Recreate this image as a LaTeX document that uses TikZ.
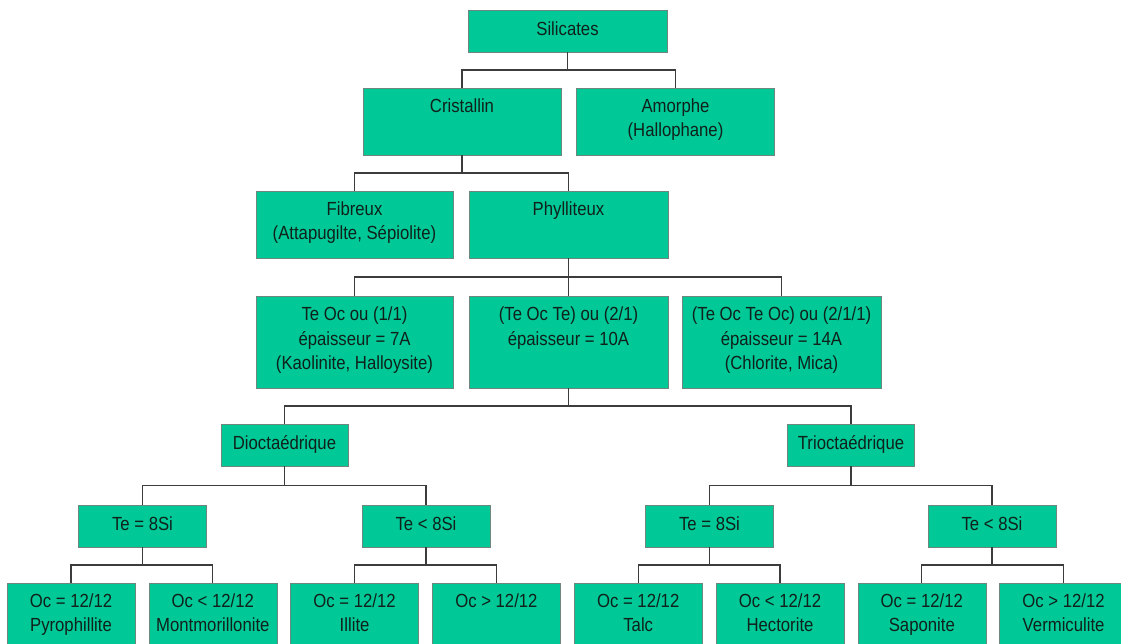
\documentclass[tikz,border=0pt]{standalone}
\usepackage{fontspec}
\setmainfont{Liberation Sans}[FakeStretch=0.88]
\usepackage{tikz}
\usetikzlibrary{positioning,calc}
\definecolor{boxgreen}{RGB}{0,201,151}
\definecolor{boxline}{RGB}{110,135,125}
\definecolor{linkgray}{RGB}{60,60,60}
\definecolor{inkdark}{RGB}{16,32,26}

\begin{document}
\begin{tikzpicture}[
    x=1pt, y=-1pt,
    box/.style={rectangle,draw=boxline,line width=0.6pt,fill=boxgreen,text=inkdark,align=center,inner sep=2pt,
        font=\fontsize{19}{24.5}\selectfont,execute at begin node=\strut,execute at end node=\strut},
    small/.style={box,minimum width=128pt,minimum height=42pt},
    wide/.style={box,minimum width=198pt,minimum height=67pt},
    tall/.style={box,minimum width=197pt,minimum height=92pt},
    leaf/.style={box,minimum width=128pt,minimum height=67pt},
    link/.style={draw=linkgray,line width=1.3pt,
        to path={(\tikztostart.south) -- ($(\tikztostart.south)!0.5!(\tikztostart.south |- \tikztotarget.north)$) -| (\tikztotarget.north)}}
    ]
        \useasboundingbox (0,0) rectangle (1121,643);
        \clip (0,0) rectangle (1121,643);

        \node [small,minimum width=199pt](sil) at (567.5,31) {Silicates};

        \node [wide](cris) at (462,121.5) {Cristallin\\~};
        \node [wide,node distance=213.5pt](amor) [right of=cris] {Amorphe\\(Hallophane)};

        \node [wide,minimum width=197pt](fib) at (354.5,224.5) {Fibreux\\(Attapugilte, Sépiolite)};
        \node [wide,minimum width=199pt,node distance=214pt](phyl) [right of=fib] {Phylliteux\\~};

        \node [tall](to) at (354.5,342) {Te Oc ou (1/1)\\épaisseur = 7A\\(Kaolinite, Halloysite)};
        \node [tall,minimum width=199pt,node distance=214pt](tot) [right of=to] {(Te Oc Te) ou (2/1)\\épaisseur = 10A\\~};
        \node [tall,minimum width=199pt,node distance=213pt](toto) [right of=tot] {(Te Oc Te Oc) ou (2/1/1)\\épaisseur = 14A\\(Chlorite, Mica)};

        \node [small,minimum width=127pt](dio) at (284.5,445) {Dioctaédrique};
        \node [small,minimum width=127pt,node distance=566.5pt](tri) [right of=dio] {Trioctaédrique};

        \node [small](deq) at (142.5,526) {Te = 8Si};
        \node [small,node distance=283.5pt](dlt) [right of=deq] {Te < 8Si};
        \node [small,node distance=283.5pt](teq) [right of=dlt] {Te = 8Si};
        \node [small,node distance=282.5pt](tlt) [right of=teq] {Te < 8Si};

        \node [leaf](pyro) at (71,616.5) {Oc = 12/12\\Pyrophillite};
        \node [leaf,node distance=141.8pt](mont) [right of=pyro] {Oc < 12/12\\Montmorillonite};
        \node [leaf,node distance=141.8pt](illi) [right of=mont] {Oc = 12/12\\Illite};
        \node [leaf,node distance=141.8pt](dgt) [right of=illi] {Oc > 12/12\\~};
        \node [leaf,node distance=141.8pt](talc) [right of=dgt] {Oc = 12/12\\Talc};
        \node [leaf,node distance=141.8pt](hect) [right of=talc] {Oc < 12/12\\Hectorite};
        \node [leaf,node distance=141.8pt](sapo) [right of=hect] {Oc = 12/12\\Saponite};
        \node [leaf,node distance=141.8pt](verm) [right of=sapo] {Oc > 12/12\\Vermiculite};

        \path (sil) edge[link] (cris) edge[link] (amor);
        \path (cris) edge[link] (fib) edge[link] (phyl);
        \path (phyl) edge[link] (to) edge[link] (tot) edge[link] (toto);
        \path (tot) edge[link] (dio) edge[link] (tri);
        \path (dio) edge[link] (deq) edge[link] (dlt);
        \path (tri) edge[link] (teq) edge[link] (tlt);
        \path (deq) edge[link] (pyro) edge[link] (mont);
        \path (dlt) edge[link] (illi) edge[link] (dgt);
        \path (teq) edge[link] (talc) edge[link] (hect);
        \path (tlt) edge[link] (sapo) edge[link] (verm);

\end{tikzpicture}
\end{document}
